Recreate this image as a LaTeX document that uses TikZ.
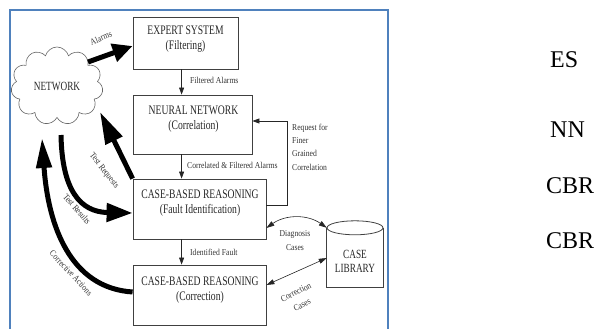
\documentclass[tikz,border=0pt]{standalone}
\usepackage{fontspec}
\setmainfont{Liberation Serif}
\newfontfamily\condfont[FakeStretch=0.74]{Liberation Serif}
\newfontfamily\lblfamily[FakeStretch=0.85]{Liberation Serif}
\usetikzlibrary{arrows.meta,shapes.symbols,calc}
\definecolor{frameblue}{RGB}{79,129,189}
\begin{document}
\begin{tikzpicture}[x=1pt,y=-1pt,
  box/.style={draw=black!75, line width=0.8pt, inner sep=0pt},
  boxtext/.style={font=\condfont\fontsize{13}{15}\selectfont, align=center, text=black!85, inner sep=0pt},
  libtext/.style={font=\condfont\fontsize{12.5}{14}\selectfont, align=center, text=black!85, inner sep=0pt},
  lbl/.style={font=\lblfamily\fontsize{9}{13.3}\selectfont, text=black!80, inner sep=0pt},
  side/.style={font=\fontsize{24}{28}\selectfont, inner sep=0pt, anchor=base west},
  thinarrow/.style={-{Triangle[length=7pt,width=5pt]}, line width=0.7pt, black!85},
  thickarrow/.style 2 args={-{Triangle[length=#1,width=#2]}, line width=5pt},
  dblarrow/.style={{Triangle[length=8pt,width=5pt]}-{Triangle[length=8pt,width=5pt]}, line width=0.6pt, black!85}
]
\useasboundingbox (0,0) rectangle (595,329);
% frame
\draw[frameblue, line width=1.6pt] (10,329.5) -- (10,10) -- (388,10) -- (388,329.5);

% cloud
\node[cloud, cloud puffs=11, aspect=1.25, draw=black!60, line width=0.6pt,
      minimum width=92pt, minimum height=78pt, inner sep=0pt,
      font=\condfont\fontsize{12.5}{14}\selectfont, text=black!85] (net) at (57,86) {NETWORK};
\coordinate (netA) at (88,62);
\coordinate (netB) at (100,112);
\coordinate (netC) at (61,135);
\coordinate (netD) at (42,138);

% boxes
\node[box, minimum width=105pt, minimum height=52pt] (es) at (185.5,43) {};
\node[boxtext] (esT) at (185.5,39) {EXPERT SYSTEM\\(Filtering)};
\node[box, minimum width=119pt, minimum height=59pt] (nn) at (192.5,124.5) {};
\node[boxtext] (nnT) at (193.5,119.5) {NEURAL NETWORK\\(Correlation)};
\node[box, minimum width=133pt, minimum height=60pt] (cbr1) at (199.5,209) {};
\node[boxtext] (cbr1T) at (200,203.5) {CASE-BASED REASONING\\(Fault Identification)};
\node[box, minimum width=133pt, minimum height=60pt] (cbr2) at (199.5,295) {};
\node[boxtext] (cbr2T) at (200,290) {CASE-BASED REASONING\\(Correction)};

% case library
\node[minimum width=56pt, minimum height=59pt, inner sep=0pt] (lib) at (355,257.5) {};
\draw[black!75, line width=0.8pt] (lib.north west) -- (lib.south west) -- (lib.south east) -- (lib.north east);
\draw[black!75, line width=0.8pt, fill=white] (lib.north) ellipse [x radius=28, y radius=7];
\node[libtext] (libT) at (355,261) {CASE\\LIBRARY};

% thin vertical arrows
\draw[thinarrow] ([xshift=49pt]es.south west) -- ([xshift=49pt]nn.north west);
\draw[thinarrow] ([xshift=49pt]nn.south west) -- ([xshift=49pt]cbr1.north west);
\draw[thinarrow] ([xshift=49pt]cbr1.south west) -- ([xshift=49pt]cbr2.north west);
\node[lbl, anchor=west] (lFA) at (190,80) {Filtered Alarms};
\node[lbl, anchor=west] (lCFA) at (187,165) {Correlated \& Filtered Alarms};
\node[lbl, anchor=west] (lIF) at (190,252) {Identified Fault};

% request loop
\draw[thinarrow] ([yshift=4pt]cbr1.east) -- ++(21,0) |- ([yshift=3.5pt]nn.east);
\node[lbl, anchor=west, align=left] (lReq) at (292,147) {Request for\\Finer\\Grained\\Correlation};

% thick arrows
\draw[thickarrow={20pt}{18pt}] (netA) -- ([yshift=-3pt]es.west);
\node[lbl, rotate=22] (lAl) at (101,38) {Alarms};
\draw[thickarrow={32pt}{18pt}] (cbr1.north west) -- (netB);
\node[lbl, rotate=-52] (lTReq) at (104,171) {Test Requests};
\draw[thickarrow={26pt}{18pt}] (netC) .. controls (62,190) and (80,212) .. ([yshift=-4pt]cbr1.west);
\node[lbl, rotate=-49] (lTRes) at (77,209) {Test Results};
\draw[thickarrow={30pt}{15pt}] ([yshift=3pt]cbr2.west) .. controls (70,288) and (48,225) .. (netD);
\node[lbl, rotate=-47] (lCA) at (71,273) {Corrective Actions};

% library arrows
\draw[dblarrow] ([yshift=-19pt]cbr1.east) to[bend left=35] (lib.north west);
\node[lbl, align=center] (lDC) at (295,240.5) {Diagnosis\\Cases};
\draw[dblarrow] ([yshift=10pt]cbr2.east) -- ([yshift=-0.5pt]lib.west);
\node[lbl, align=center, rotate=26, font=\lblfamily\fontsize{9}{14}\selectfont] (lCC) at (299,298.5) {Correction\\Cases};

% side labels
\node[side] (sES) at (550,68) {ES};
\node[side] (sNN) at (550,137) {NN};
\node[side] (sC1) at (546,193) {CBR};
\node[side] (sC2) at (546,248) {CBR};
\end{tikzpicture}
\end{document}
